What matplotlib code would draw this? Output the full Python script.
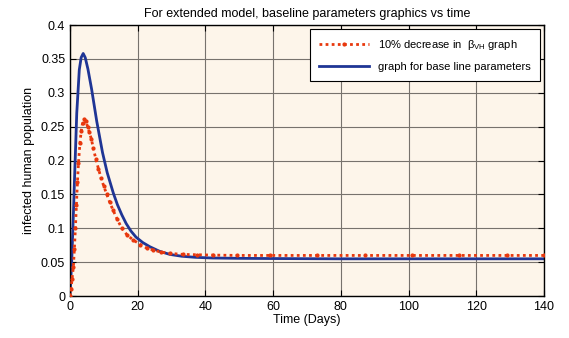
import matplotlib
matplotlib.use("Agg")
import matplotlib.pyplot as plt

plt.rcParams["font.family"] = ["Liberation Sans", "DejaVu Sans"]

# ── Data ───────────────────────────────────────────────────────────────────
t_base = [0, 0.5, 1.0, 1.3, 2.0, 2.75, 3.3, 3.9, 4.5, 5.3, 6.4, 7.9, 9.6,
          11, 12.8, 14, 15.3, 16.6, 18, 19.5, 21.5, 23.6, 26.5, 29.5, 33,
          37, 42, 50, 60, 80, 100, 120, 140]
y_base = [0, 0.05, 0.12, 0.167, 0.27, 0.334, 0.352, 0.358, 0.352, 0.335,
          0.305, 0.258, 0.212, 0.182, 0.152, 0.135, 0.12, 0.107, 0.096,
          0.087, 0.079, 0.0728, 0.066, 0.0615, 0.0588, 0.0572, 0.0562,
          0.0557, 0.0554, 0.055, 0.055, 0.055, 0.055]

t_dec = [0, 0.3, 0.6, 1.0, 1.3, 1.6, 1.9, 2.2, 2.5, 2.95, 3.3, 3.7, 4.2,
         4.7, 5.2, 5.7, 6.3, 6.9, 7.6, 8.4, 9.2, 10.0, 10.8, 11.7, 12.7,
         13.9, 15.3, 16.9, 18.7, 20.8, 22.6, 24.6, 26.8, 29.5, 33.4, 37.5,
         42.3, 49.3, 59, 73, 87, 101, 115, 129, 140]
y_dec = [0, 0.01, 0.025, 0.043, 0.07, 0.1, 0.135, 0.168, 0.196, 0.226,
         0.243, 0.255, 0.261, 0.258, 0.25, 0.242, 0.232, 0.218, 0.203,
         0.188, 0.174, 0.162, 0.151, 0.139, 0.127, 0.114, 0.1, 0.09,
         0.0827, 0.076, 0.071, 0.068, 0.065, 0.063, 0.0615, 0.061, 0.0605,
         0.06, 0.06, 0.06, 0.06, 0.06, 0.06, 0.06, 0.06]

x_ticks = [0, 20, 40, 60, 80, 100, 120, 140]
y_ticks = [0, 0.05, 0.1, 0.15, 0.2, 0.25, 0.3, 0.35, 0.4]
y_ticklabels = ["0", "0.05", "0.1", "0.15", "0.2", "0.25", "0.3", "0.35", "0.4"]

# ── Plot ───────────────────────────────────────────────────────────────────
fig = plt.figure(figsize=(5.69, 3.38), dpi=100)
ax = fig.add_axes([0.123, 0.124, 0.833, 0.802])
ax.set_facecolor("#fdf5ea")

ax.plot(t_dec, y_dec, color="#e8380d", lw=2, ls=(0, (1, 1.2)),
        marker=".", ms=4, label="10% decrease in  β$_{\\mathregular{VH}}$ graph",
        zorder=3)
ax.plot(t_base, y_base, color="#1f3595", lw=2,
        label="graph for base line parameters", zorder=2)

ax.set_xlim(0, 140)
ax.set_ylim(0, 0.4)
ax.set_xticks(x_ticks)
ax.set_yticks(y_ticks)
ax.set_yticklabels(y_ticklabels)
ax.grid(True, color="#77726d", lw=0.8)
ax.set_axisbelow(True)
ax.tick_params(direction="in", top=True, right=True, length=4, labelsize=9,
               color="black")
for s in ax.spines.values():
    s.set_linewidth(1.0)

ax.set_xlabel("Time (Days)", fontsize=9, labelpad=1)
ax.set_ylabel("infected human population", fontsize=9, labelpad=4)
ax.set_title("For extended model, baseline parameters graphics vs time",
             fontsize=9, pad=6)

leg = ax.legend(loc="upper right", fontsize=8, fancybox=False, framealpha=1,
                edgecolor="black", borderaxespad=0.4, handlelength=4.5,
                borderpad=0.8, labelspacing=0.9)
leg.get_frame().set_linewidth(0.8)

fig.savefig("out.png", dpi=100)
